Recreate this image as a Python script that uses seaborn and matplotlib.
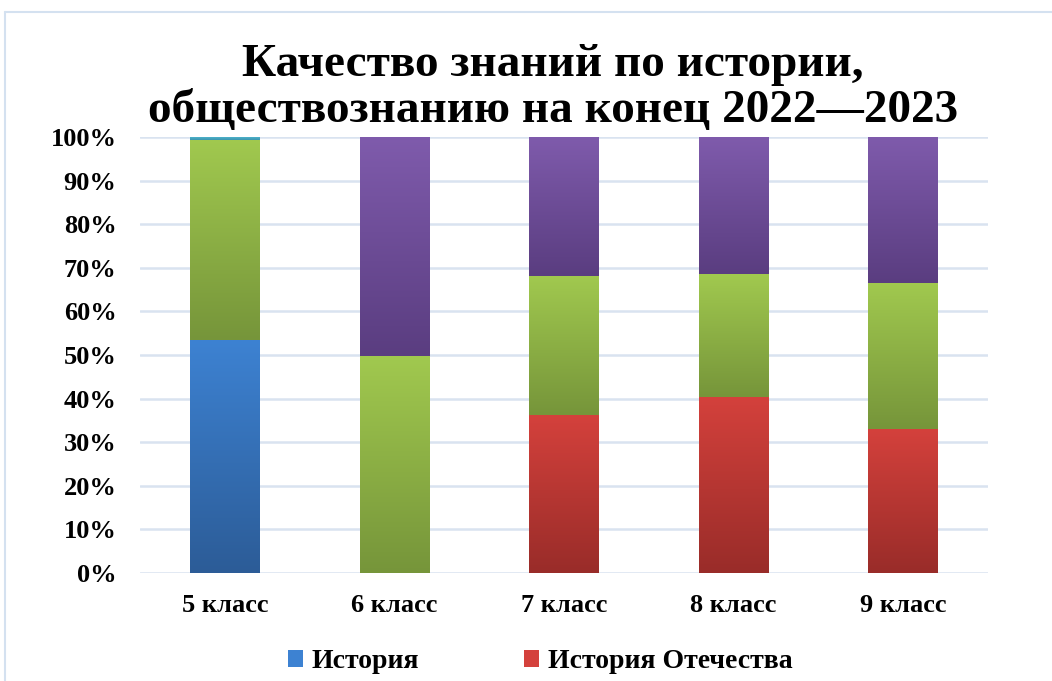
import matplotlib

matplotlib.use("Agg")

import matplotlib.pyplot as plt
from matplotlib.colors import LinearSegmentedColormap
from matplotlib.font_manager import FontProperties
from matplotlib.lines import Line2D
from matplotlib.patches import Patch
import numpy as np
import pandas as pd
import seaborn as sns

# values in percent
classes = ["5 класс", "6 класс", "7 класс", "8 класс", "9 класс"]
series_names = ["История", "История Отечества", "Обществознание", "Всеобщая история", "Право"]
history = [53.4, 0.0, 0.0, 0.0, 0.0]
history_fatherland = [0.0, 0.0, 36.2, 40.4, 33.0]
social_studies = [46.0, 49.8, 31.9, 28.2, 33.5]
world_history = [0.0, 50.2, 31.9, 31.4, 33.5]
law = [0.6, 0.0, 0.0, 0.0, 0.0]
y_ticks = [0, 10, 20, 30, 40, 50, 60, 70, 80, 90, 100]

# (top colour, bottom colour) for each series gradient
GRADIENTS = {
    "История": ("#3d82d2", "#2c5c97"),
    "История Отечества": ("#d4413c", "#992c29"),
    "Обществознание": ("#a1c94f", "#76953a"),
    "Всеобщая история": ("#7f5bac", "#5a3d80"),
    "Право": ("#4fb3cd", "#3a93ab"),
}

sns.set_theme(style="white")
plt.rcParams["font.family"] = ["Liberation Serif", "DejaVu Serif"]
plt.rcParams["font.weight"] = "bold"
plt.rcParams["text.color"] = "black"
plt.rcParams["xtick.color"] = "black"
plt.rcParams["ytick.color"] = "black"

df = pd.DataFrame(
    {
        "класс": classes,
        "История": history,
        "История Отечества": history_fatherland,
        "Обществознание": social_studies,
        "Всеобщая история": world_history,
        "Право": law,
    }
)
cum = df[series_names].cumsum(axis=1)

fig = plt.figure(figsize=(10.52, 6.81), dpi=100)
ax = fig.add_axes([140 / 1052, 1 - 573 / 681, 848 / 1052, 436 / 681])

# stacked bars: draw cumulative totals from the top series down
order = list(reversed(series_names))
for name in order:
    sns.barplot(x=df["класс"], y=cum[name], ax=ax, width=0.41, color=GRADIENTS[name][0],
                linewidth=0, zorder=3)

grad = np.linspace(1, 0, 256).reshape(-1, 1)
for container, name in zip(ax.containers, order):
    cmap = LinearSegmentedColormap.from_list(name, [GRADIENTS[name][1], GRADIENTS[name][0]])
    for bar, top, value in zip(container.patches, cum[name], df[name]):
        bar.set_facecolor("none")
        if value <= 0:
            continue
        x0 = bar.get_x()
        x1 = x0 + bar.get_width()
        im = ax.imshow(grad, cmap=cmap, aspect="auto", extent=[x0, x1, top - value, top],
                       zorder=3, interpolation="bicubic")
        im.set_clip_path(bar)

ax.set_xlim(-0.5, 4.5)
ax.set_ylim(0, 100)
ax.set_yticks(y_ticks)
ax.set_yticklabels([f"{t}%" for t in y_ticks])
ax.set_xlabel("")
ax.set_ylabel("")
for side in ax.spines.values():
    side.set_visible(False)
ax.grid(axis="y", color="#d9e3f0", linewidth=1.8, zorder=0)
ax.grid(axis="x", visible=False)
ax.tick_params(axis="y", length=0, pad=17, labelsize=19)
ax.tick_params(axis="x", length=0, pad=15, labelsize=19)
for lbl in ax.get_xticklabels() + ax.get_yticklabels():
    lbl.set_fontweight("bold")
    lbl.set_color("black")

fig.text(553 / 1052, 1 - 88 / 681, "Качество знаний по истории,\nобществознанию на конец 2022—2023",
         ha="center", va="center", fontsize=34, fontweight="bold", linespacing=1.15, color="black")

legend_font = FontProperties(family=["Liberation Serif", "DejaVu Serif"], weight="bold", size=20)
handles = [Patch(facecolor=GRADIENTS[n][0], edgecolor="none") for n in series_names[:2]]
leg = fig.legend(handles, series_names[:2], loc="center", bbox_to_anchor=(540 / 1052, 1 - 662 / 681),
                 ncol=2, frameon=False, prop=legend_font, handlelength=0.55,
                 handleheight=0.55, handletextpad=0.3, columnspacing=3.8)

# chart area border (cut by the image edge)
border_color = "#d4e1f0"
fig.add_artist(Line2D([5 / 1052, 1], [1 - 12 / 681, 1 - 12 / 681], transform=fig.transFigure,
                      color=border_color, linewidth=1.5))
fig.add_artist(Line2D([5 / 1052, 5 / 1052], [0, 1 - 12 / 681], transform=fig.transFigure,
                      color=border_color, linewidth=1.5))

fig.savefig("out.png", dpi=100)
